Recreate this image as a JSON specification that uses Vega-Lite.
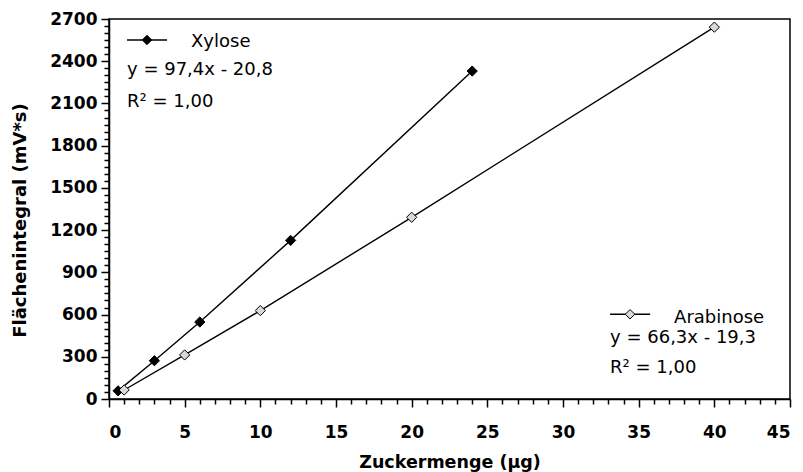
{
  "$schema": "https://vega.github.io/schema/vega-lite/v6.json",
  "width": 681,
  "height": 380,
  "autosize": {"type": "none"},
  "padding": {"left": 109, "top": 19, "right": 13, "bottom": 73},
  "background": "white",
  "config": {
    "view": {"stroke": "#000000", "strokeWidth": 1.5},
    "axis": {
      "grid": false,
      "domainColor": "#000000",
      "domainWidth": 1.5,
      "tickColor": "#000000",
      "tickWidth": 1.5,
      "labelFont": "DejaVu Sans",
      "labelFontWeight": "bold",
      "labelFontSize": 17,
      "labelColor": "#000000",
      "titleFont": "DejaVu Sans",
      "titleFontWeight": "bold",
      "titleFontSize": 17.5,
      "titleColor": "#000000",
      "labelOverlap": false
    }
  },
  "datasets": {
    "points": [
      {"series": "Xylose", "x": 0.6, "y": 58},
      {"series": "Xylose", "x": 3, "y": 272},
      {"series": "Xylose", "x": 6, "y": 547},
      {"series": "Xylose", "x": 12, "y": 1127},
      {"series": "Xylose", "x": 24, "y": 2330},
      {"series": "Arabinose", "x": 1, "y": 64},
      {"series": "Arabinose", "x": 5, "y": 313},
      {"series": "Arabinose", "x": 10, "y": 628},
      {"series": "Arabinose", "x": 20, "y": 1291},
      {"series": "Arabinose", "x": 40, "y": 2642}
    ],
    "keys": [
      {"series": "Xylose", "x1": 1.19, "x2": 3.83, "xm": 2.51, "y": 2551},
      {"series": "Arabinose", "x1": 33.11, "x2": 35.76, "xm": 34.43, "y": 602}
    ],
    "notes": [
      {"x": 5.42, "y": 2500, "label": "Xylose"},
      {"x": 1.19, "y": 2303, "label": "y = 97,4x - 20,8"},
      {"x": 1.19, "y": 2075, "label": "R² = 1,00"},
      {"x": 37.34, "y": 538, "label": "Arabinose"},
      {"x": 33.11, "y": 396, "label": "y = 66,3x - 19,3"},
      {"x": 33.11, "y": 183, "label": "R² = 1,00"}
    ]
  },
  "layer": [
    {
      "data": {"name": "points"},
      "mark": {"type": "line", "color": "#000000", "strokeWidth": 1.4},
      "encoding": {
        "x": {
          "field": "x", "type": "quantitative",
          "scale": {"domain": [0, 45], "nice": false, "zero": false},
          "axis": {
            "title": "Zuckermenge (µg)",
            "values": [0,1,2,3,4,5,6,7,8,9,10,11,12,13,14,15,16,17,18,19,20,21,22,23,24,25,26,27,28,29,30,31,32,33,34,35,36,37,38,39,40,41,42,43,44,45],
            "tickCount": 200,
            "format": "d",
            "labelExpr": "datum.value % 5 === 0 ? datum.label : ''",
            "tickSize": {"condition": {"test": "datum.value % 5 === 0", "value": 8}, "value": 5},
            "labelPadding": 17,
            "titlePadding": 13
          }
        },
        "y": {
          "field": "y", "type": "quantitative",
          "scale": {"domain": [0, 2700], "nice": false},
          "axis": {
            "title": "Flächenintegral (mV*s)",
            "titleFontSize": 18,
            "values": [0,50,100,150,200,250,300,350,400,450,500,550,600,650,700,750,800,850,900,950,1000,1050,1100,1150,1200,1250,1300,1350,1400,1450,1500,1550,1600,1650,1700,1750,1800,1850,1900,1950,2000,2050,2100,2150,2200,2250,2300,2350,2400,2450,2500,2550,2600,2650,2700],
            "tickCount": 200,
            "labelExpr": "datum.value % 300 === 0 ? datum.label : ''",
            "format": "d",
            "tickSize": {"condition": {"test": "datum.value % 300 === 0", "value": 8}, "value": 5},
            "labelPadding": 4,
            "titlePadding": 20,
            "titleY": 201
          }
        },
        "detail": {"field": "series"}
      }
    },
    {
      "data": {"name": "points"},
      "mark": {"type": "point", "shape": "diamond", "filled": true, "stroke": "#000000", "strokeWidth": 1, "opacity": 1, "size": 105},
      "encoding": {
        "x": {"field": "x", "type": "quantitative"},
        "y": {"field": "y", "type": "quantitative"},
        "fill": {"field": "series", "type": "nominal", "scale": {"domain": ["Arabinose", "Xylose"], "range": ["#d9d9d9", "#000000"]}, "legend": null}
      }
    },
    {
      "data": {"name": "keys"},
      "mark": {"type": "rule", "color": "#000000", "strokeWidth": 1.5},
      "encoding": {
        "x": {"field": "x1", "type": "quantitative"},
        "x2": {"field": "x2"},
        "y": {"field": "y", "type": "quantitative"}
      }
    },
    {
      "data": {"name": "keys"},
      "mark": {"type": "point", "shape": "diamond", "filled": true, "stroke": "#000000", "strokeWidth": 1, "opacity": 1, "size": 90},
      "encoding": {
        "x": {"field": "xm", "type": "quantitative"},
        "y": {"field": "y", "type": "quantitative"},
        "fill": {"field": "series", "type": "nominal", "scale": {"domain": ["Arabinose", "Xylose"], "range": ["#d9d9d9", "#000000"]}, "legend": null}
      }
    },
    {
      "data": {"name": "notes"},
      "mark": {"type": "text", "align": "left", "baseline": "alphabetic", "font": "DejaVu Sans", "fontSize": 18, "color": "#000000"},
      "encoding": {
        "x": {"field": "x", "type": "quantitative"},
        "y": {"field": "y", "type": "quantitative"},
        "text": {"field": "label"}
      }
    }
  ]
}
